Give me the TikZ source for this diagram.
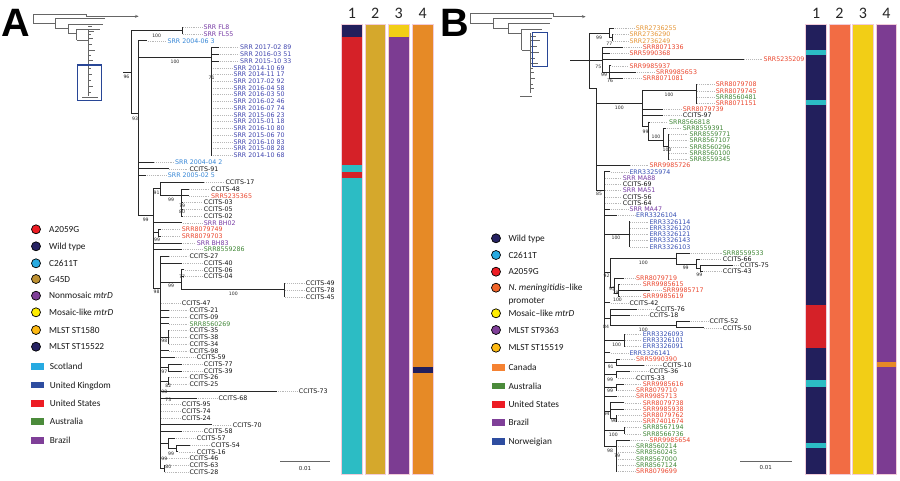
\documentclass[tikz,border=0pt]{standalone}
\usepackage{fontspec}
\setmainfont{DejaVu Sans}
\newfontfamily\legfont{Carlito}
\newfontfamily\letfont{Liberation Sans}
\definecolor{trc}{RGB}{40,40,40}
\definecolor{cPur}{RGB}{120,60,165}
\definecolor{cSky}{RGB}{55,135,215}
\definecolor{cInd}{RGB}{65,70,175}
\definecolor{cRed}{RGB}{235,70,45}
\definecolor{cGrn}{RGB}{65,135,55}
\definecolor{cTan}{RGB}{230,150,55}
\definecolor{cBlu}{RGB}{55,80,180}
\definecolor{cBlk}{RGB}{20,20,20}
\definecolor{lRed}{RGB}{237,28,36}
\definecolor{lNavy}{RGB}{38,34,98}
\definecolor{lSky}{RGB}{39,170,225}
\definecolor{lOchre}{RGB}{190,145,50}
\definecolor{lPur}{RGB}{127,63,152}
\definecolor{lYel}{RGB}{255,237,0}
\definecolor{lGold}{RGB}{253,185,19}
\definecolor{lBlue}{RGB}{46,77,160}
\definecolor{lGrn}{RGB}{75,139,59}
\definecolor{lOra}{RGB}{241,101,41}
\definecolor{lCan}{RGB}{245,130,50}
\definecolor{bNavy}{RGB}{34,31,92}
\definecolor{bRed}{RGB}{213,33,40}
\definecolor{bCyan}{RGB}{44,188,196}
\definecolor{bGold}{RGB}{213,168,44}
\definecolor{bPur}{RGB}{124,60,146}
\definecolor{bOra}{RGB}{230,138,38}
\definecolor{bYel}{RGB}{242,206,22}
\definecolor{bCoral}{RGB}{242,108,68}
\definecolor{boxBlue}{RGB}{40,70,150}
\tikzset{
  br/.style={draw=trc, line width=0.75pt, line cap=rect},
  ldr/.style={draw=black!28, dash pattern=on 0.6pt off 1.3pt, line width=0.4pt, shorten >=1pt},
  lbl/.style={font=\fontsize{6.3}{7}\selectfont, inner sep=0pt, anchor=west, text height=4.6pt, text depth=0pt},
  bs/.style={font=\fontsize{4.6}{5}\selectfont, inner sep=0pt, text=black!85},
  leg/.style={font=\legfont\fontsize{9.3}{11}\selectfont, inner sep=0pt, anchor=west, text height=6pt, text depth=0pt, text=black!90},
  dot/.style={circle, draw=black, line width=0.7pt, minimum size=9pt, inner sep=0pt},
  sq/.style={rectangle, minimum width=13.6pt, minimum height=6.8pt, inner sep=0pt},
  th/.style={draw=black!60, line width=0.45pt},
  num/.style={font=\legfont\fontsize{16}{18}\selectfont, inner sep=0pt, text=black!85},
  letter/.style={font=\letfont\bfseries\fontsize{39.6}{40}\selectfont, inner sep=0pt, anchor=base west},
  bar/.style={draw=white!80!purple, line width=0.5pt}
}
\newcommand\hbr[3]{\draw[br] (#2,#1) -- (#3,#1);}
\newcommand\vbr[3]{\draw[br] (#1,#2) -- (#1,#3);}
\newcommand\leafA[6]{%
  \draw[br] (#2,{27.3+6.738*#1}) -- (#3,{27.3+6.738*#1});
  \node[lbl,text=#5] (a#1) at (#4,{27.3+6.738*#1}) {#6};
  \draw[ldr] ([xshift=1pt]#3,{27.3+6.738*#1}) -- (a#1.west);}
\newcommand\leafB[6]{%
  \draw[br] (#2,{28.3+6.24*#1}) -- (#3,{28.3+6.24*#1});
  \node[lbl,text=#5] (b#1) at (#4,{28.3+6.24*#1}) {#6};
  \draw[ldr] ([xshift=1pt]#3,{28.3+6.24*#1}) -- (b#1.west);}
\begin{document}
\begin{tikzpicture}[x=1pt,y=-1pt]
\useasboundingbox (0,0) rectangle (900,480);
\fill[white] (0,0) rectangle (900,480);

% ================= PANEL A =================
\node[letter] (letA) at (1.7,36.7) {A};
% thumbnail A
\draw[th] (33.3,14.3)--(33.3,23.3);
\draw[th] (33.3,14.3)--(86.7,14.3);
\draw[th,line width=1.3pt] (46,14.3)--(73,14.3);
\draw[th] (86.7,14.3)--(86.7,16.3)--(138,16.3);
\draw[th] (135,15)--(138,16.3)--(135,17.6);
\draw[th] (33.3,23.3)--(55,23.3);
\draw[th] (55,18.3)--(55,28.3);
\draw[th] (55,18.3)--(105,18.3);
\draw[th] (55,28.3)--(68.3,28.3);
\draw[th] (68.3,24)--(68.3,33.3);
\draw[th] (68.3,24)--(103,24);
\draw[th] (68.3,33.3)--(76.7,33.3);
\draw[th] (76.7,29)--(76.7,40);
\draw[th] (76.7,29)--(100,29);
\draw[th] (76.7,40)--(88.3,40);
\draw[th] (88.3,30)--(88.3,96);
\foreach \yy/\ll in {26/4,31/6,34/3,38/5,44/4,50/7,55/3,60/5,68/3,74/4,80/3,86/5,92/3}{\draw[th] (88.3,\yy)--++(\ll,0);}
\draw[th] (82,97)--(98,97);
\draw[draw=boxBlue, line width=1.2pt] (77.3,65) rectangle (101.7,100.7);

% tree A internal
\draw[br] (123,72)--(131.7,72);
\vbr{131.7}{30.65}{113}
\hbr{30.65}{131.7}{182}
\vbr{182}{27.3}{34.0}
\hbr{113}{131.7}{138.3}
\vbr{138.3}{40.8}{215}
\hbr{57.3}{138.3}{211.7}
\vbr{211.7}{47.5}{155.3}
\hbr{215}{138.3}{153.3}
\vbr{153.3}{188}{288}
\hbr{188}{153.3}{160}
\vbr{160}{182.3}{195.8}
\hbr{195.8}{160}{181.7}
\vbr{181.7}{189}{216}
\hbr{232.8}{153.3}{158.3}
\vbr{158.3}{229.4}{236.2}
\hbr{288}{153.3}{160}
\vbr{160}{256.4}{468.6}
\hbr{282}{160}{181.7}
\vbr{181.7}{269.9}{289.5}
\hbr{289.5}{181.7}{284.3}
\vbr{284.3}{283.3}{296.8}
\hbr{337.2}{160}{168.3}
\vbr{168.3}{330.5}{344.0}
\hbr{367.5}{160}{168.3}
\vbr{168.3}{364.2}{370.9}
\hbr{381}{160}{168.3}
\vbr{168.3}{377.7}{384.4}
\hbr{443}{160}{168.3}
\vbr{168.3}{438.3}{448.5}
\hbr{448.5}{168.3}{176}
\vbr{176}{445.1}{451.8}
\hbr{468.6}{160}{164}
\vbr{164}{465.3}{472}

% leaves A
\leafA{0}{182}{182}{203.3}{cPur}{SRR FL8}
\leafA{1}{182}{182}{203.3}{cPur}{SRR FL55}
\leafA{2}{138.3}{146.7}{167.3}{cSky}{SRR 2004-06 3}
\leafA{3}{211.7}{219}{240}{cInd}{SRR 2017-02 89}
\leafA{4}{211.7}{219}{240}{cInd}{SRR 2016-03 51}
\leafA{5}{211.7}{219}{240}{cInd}{SRR 2015-10 33}
\leafA{6}{211.7}{211.7}{233.3}{cInd}{SRR 2014-10 69}
\leafA{7}{211.7}{211.7}{233.3}{cInd}{SRR 2014-11 17}
\leafA{8}{211.7}{211.7}{233.3}{cInd}{SRR 2017-02 92}
\leafA{9}{211.7}{211.7}{233.3}{cInd}{SRR 2016-04 58}
\leafA{10}{211.7}{211.7}{233.3}{cInd}{SRR 2016-03 50}
\leafA{11}{211.7}{211.7}{233.3}{cInd}{SRR 2016-02 46}
\leafA{12}{211.7}{211.7}{233.3}{cInd}{SRR 2016-07 74}
\leafA{13}{211.7}{211.7}{233.3}{cInd}{SRR 2015-06 23}
\leafA{14}{211.7}{211.7}{233.3}{cInd}{SRR 2015-01 18}
\leafA{15}{211.7}{211.7}{233.3}{cInd}{SRR 2016-10 80}
\leafA{16}{211.7}{211.7}{233.3}{cInd}{SRR 2015-06 70}
\leafA{17}{211.7}{211.7}{233.3}{cInd}{SRR 2016-10 83}
\leafA{18}{211.7}{211.7}{233.3}{cInd}{SRR 2015-08 28}
\leafA{19}{211.7}{211.7}{233.3}{cInd}{SRR 2014-10 68}
\leafA{20}{138.3}{153.3}{175}{cSky}{SRR 2004-04 2}
\leafA{21}{138.3}{168.3}{189.3}{cBlk}{CCITS-91}
\leafA{22}{138.3}{146}{167.7}{cSky}{SRR 2005-02 5}
\leafA{23}{160}{203.3}{225.3}{cBlk}{CCITS-17}
\leafA{24}{181.7}{188.3}{211}{cBlk}{CCITS-48}
\leafA{25}{181.7}{188.3}{211}{cRed}{SRR5235365}
\leafA{26}{181.7}{183}{203.7}{cBlk}{CCITS-03}
\leafA{27}{181.7}{183}{203.7}{cBlk}{CCITS-05}
\leafA{28}{181.7}{183}{203.7}{cBlk}{CCITS-02}
\leafA{29}{153.3}{181.7}{203.7}{cPur}{SRR BH02}
\leafA{30}{158.3}{161}{181.7}{cRed}{SRR8079749}
\leafA{31}{158.3}{161}{181.7}{cRed}{SRR8079703}
\leafA{32}{153.3}{181.7}{196.7}{cPur}{SRR BH83}
\leafA{33}{153.3}{181.7}{203.7}{cGrn}{SRR8559286}
\leafA{34}{160}{168.3}{189.3}{cBlk}{CCITS-27}
\leafA{35}{160}{181.7}{203.7}{cBlk}{CCITS-40}
\leafA{36}{181.7}{184}{203.7}{cBlk}{CCITS-06}
\leafA{37}{181.7}{184}{203.7}{cBlk}{CCITS-04}
\leafA{38}{284.3}{284.3}{305.7}{cBlk}{CCITS-49}
\leafA{39}{284.3}{284.3}{305.7}{cBlk}{CCITS-78}
\leafA{40}{284.3}{284.3}{305.7}{cBlk}{CCITS-45}
\leafA{41}{160}{160}{181.7}{cBlk}{CCITS-47}
\leafA{42}{160}{168.3}{189.3}{cBlk}{CCITS-21}
\leafA{43}{160}{168.3}{189.3}{cBlk}{CCITS-09}
\leafA{44}{160}{168.3}{189.3}{cGrn}{SRR8560269}
\leafA{45}{168.3}{168.3}{189.3}{cBlk}{CCITS-35}
\leafA{46}{168.3}{168.3}{189.3}{cBlk}{CCITS-38}
\leafA{47}{168.3}{168.3}{189.3}{cBlk}{CCITS-34}
\leafA{48}{160}{168.3}{189.3}{cBlk}{CCITS-98}
\leafA{49}{160}{175}{196.7}{cBlk}{CCITS-59}
\leafA{50}{168.3}{181.7}{203.7}{cBlk}{CCITS-77}
\leafA{51}{168.3}{181.7}{203.7}{cBlk}{CCITS-39}
\leafA{52}{168.3}{168.3}{189.3}{cBlk}{CCITS-26}
\leafA{53}{168.3}{168.3}{189.3}{cBlk}{CCITS-25}
\leafA{54}{160}{276.7}{298.7}{cBlk}{CCITS-73}
\leafA{55}{160}{196.7}{218.3}{cBlk}{CCITS-68}
\leafA{56}{160}{160}{181.7}{cBlk}{CCITS-95}
\leafA{57}{160}{160}{181.7}{cBlk}{CCITS-74}
\leafA{58}{160}{160}{181.7}{cBlk}{CCITS-24}
\leafA{59}{160}{211.7}{232.7}{cBlk}{CCITS-70}
\leafA{60}{160}{181.7}{203.7}{cBlk}{CCITS-58}
\leafA{61}{168.3}{175}{196.7}{cBlk}{CCITS-57}
\leafA{62}{176}{189.3}{211}{cBlk}{CCITS-54}
\leafA{63}{176}{178}{196.7}{cBlk}{CCITS-16}
\leafA{64}{160}{160}{189.3}{cBlk}{CCITS-46}
\leafA{65}{164}{164}{189.3}{cBlk}{CCITS-63}
\leafA{66}{164}{164}{189.3}{cBlk}{CCITS-28}

% bootstrap A
\node[bs] (pa1) at (156.7,35.8) {100};
\node[bs] (pa2) at (126.5,76.5) {96};
\node[bs] (pa3) at (135,119) {93};
\node[bs] (pa4) at (175,61.8) {100};
\node[bs] (pa5) at (211.5,78.3) {71};
\node[bs] (pa6) at (145.7,220) {99};
\node[bs] (pa7) at (156.5,192.5) {91};
\node[bs] (pa8) at (171,200) {99};
\node[bs] (pa9) at (182,206) {79};
\node[bs] (pa10) at (182,211.5) {80};
\node[bs] (pa11) at (157,240) {99};
\node[bs] (pa12) at (156.5,292) {98};
\node[bs] (pa13) at (182,276.5) {77};
\node[bs] (pa14) at (171,286) {99};
\node[bs] (pa15) at (233.3,293.8) {100};
\node[bs] (pa16) at (164.3,340.5) {98};
\node[bs] (pa17) at (164.3,371.5) {97};
\node[bs] (pa18) at (168.3,385.5) {82};
\node[bs] (pa19) at (164.3,391.5) {98};
\node[bs] (pa20) at (168.3,399.5) {73};
\node[bs] (pa21) at (171,453.5) {99};
\node[bs] (pa22) at (164.3,458.5) {99};
\node[bs] (pa23) at (168.3,466.7) {80};

% scale bar A
\draw[draw=black!60, line width=0.6pt] (280,461.7) -- (330,461.7);
\node[bs, font=\fontsize{5.5}{6}\selectfont] (sA) at (305,468) {0.01};

% legend A
\node[dot,fill=lRed] (lda1) at (36,229.3) {};
\node[leg] (lta1) at (49,229.3) {A2059G};
\node[dot,fill=lNavy] (lda2) at (36,246.3) {};
\node[leg] (lta2) at (49,246.3) {Wild type};
\node[dot,fill=lSky] (lda3) at (36,263.3) {};
\node[leg] (lta3) at (49,263.3) {C2611T};
\node[dot,fill=lOchre] (lda4) at (36,279.0) {};
\node[leg] (lta4) at (49,279.0) {G45D};
\node[dot,fill=lPur] (lda5) at (36,295.7) {};
\node[leg] (lta5) at (49,295.7) {Nonmosaic \textit{mtrD}};
\node[dot,fill=lYel] (lda6) at (36,312.3) {};
\node[leg] (lta6) at (49,312.3) {Mosaic-like \textit{mtrD}};
\node[dot,fill=lGold] (lda7) at (36,330.0) {};
\node[leg] (lta7) at (49,330.0) {MLST ST1580};
\node[dot,fill=lNavy] (lda8) at (36,346.7) {};
\node[leg] (lta8) at (49,346.7) {MLST ST15522};
\node[sq,fill=lSky] (lsa1) at (37.5,366.7) {};
\node[leg] (lsta1) at (49.7,366.7) {Scotland};
\node[sq,fill=lBlue] (lsa2) at (37.5,385) {};
\node[leg] (lsta2) at (49.7,385) {United Kingdom};
\node[sq,fill=lRed] (lsa3) at (37.5,403.3) {};
\node[leg] (lsta3) at (49.7,403.3) {United States};
\node[sq,fill=lGrn] (lsa4) at (37.5,421.7) {};
\node[leg] (lsta4) at (49.7,421.7) {Australia};
\node[sq,fill=lPur] (lsa5) at (37.5,440.7) {};
\node[leg] (lsta5) at (49.7,440.7) {Brazil};

% bars A
\node[num] (na1) at (352,13.8) {1};
\node[num] (na2) at (375.3,13.8) {2};
\node[num] (na3) at (398.8,13.8) {3};
\node[num] (na4) at (422.7,13.8) {4};
\fill[bNavy] (341.7,24) rectangle (362.3,37.3);
\fill[bRed] (341.7,37.3) rectangle (362.3,165);
\fill[bCyan] (341.7,165) rectangle (362.3,171.7);
\fill[bRed] (341.7,171.7) rectangle (362.3,178.3);
\fill[bCyan] (341.7,178.3) rectangle (362.3,474);
\draw[bar] (341.7,24) rectangle (362.3,474);
\fill[bGold] (365,24) rectangle (385.7,474);
\draw[bar] (365,24) rectangle (385.7,474);
\fill[bYel] (388.3,24) rectangle (409.3,37.3);
\fill[bPur] (388.3,37.3) rectangle (409.3,474);
\draw[bar] (388.3,24) rectangle (409.3,474);
\fill[bOra] (412.3,24) rectangle (433,366.7);
\fill[bNavy] (412.3,366.7) rectangle (433,373.3);
\fill[bOra] (412.3,373.3) rectangle (433,474);
\draw[bar] (412.3,24) rectangle (433,474);

% ================= PANEL B =================
\node[letter] (letB) at (440.5,36.7) {B};
% thumbnail B
\draw[th] (470,13.3)--(470,23.3);
\draw[th] (470,13.3)--(553,13.3);
\draw[th,line width=1.3pt] (483,13.3)--(510,13.3);
\draw[th] (553,13.3)--(553,16.7)--(585,16.7);
\draw[th] (582,15.4)--(585,16.7)--(582,18);
\draw[th] (470,23.3)--(493.3,23.3);
\draw[th] (493.3,18.3)--(493.3,28.3);
\draw[th] (493.3,18.3)--(551.7,18.3);
\draw[th] (493.3,28.3)--(508.3,28.3);
\draw[th] (508.3,23.3)--(508.3,33.3);
\draw[th] (508.3,23.3)--(550,23.3);
\draw[th] (508.3,33.3)--(521.7,33.3);
\draw[th] (521.7,29.3)--(521.7,50);
\draw[th] (521.7,29.3)--(541.7,29.3);
\draw[th] (521.7,50)--(530,50);
\draw[th] (530,33.3)--(530,93.3);
\foreach \yy/\ll in {36/6,40/10,46/7,52/9,58/5,63/8,68/3,72/4,78/5,84/3,88/4}{\draw[th] (530,\yy)--++(\ll,0);}
\draw[th] (520,96.7)--(531.7,96.7);
\draw[draw=boxBlue, line width=1.2pt] (532.3,32.3) rectangle (547.7,66.7);

% tree B internal
\draw[br] (570.7,60.7)--(589.3,60.7);
\vbr{589.3}{33.3}{88.3}
\hbr{33.3}{589.3}{609.3}
\vbr{609.3}{28.3}{37.6}
\hbr{37.6}{609.3}{612}
\vbr{612}{34.5}{40.8}
\hbr{60.7}{589.3}{602.7}
\vbr{602.7}{47}{72}
\hbr{72}{602.7}{609}
\vbr{609}{65.7}{78.2}
\hbr{88.3}{589.3}{596.7}
\vbr{596.7}{88.3}{190}
\hbr{103.3}{596.7}{642.7}
\vbr{642.7}{90}{126.7}
\hbr{90}{642.7}{696}
\vbr{696}{84.5}{103.2}
\hbr{126.7}{642.7}{648.3}
\vbr{648.3}{121.9}{140}
\hbr{140}{648.3}{663.3}
\vbr{663.3}{128.1}{146}
\hbr{146}{663.3}{668.3}
\vbr{668.3}{134.4}{159.3}
\hbr{190}{596.7}{604}
\vbr{604}{171.8}{446.4}
\hbr{234}{604}{629.3}
\vbr{629.3}{221.7}{246.7}
\hbr{272}{604}{610}
\vbr{610}{258.3}{287}
\hbr{258.3}{610}{676}
\vbr{676}{252.9}{264}
\hbr{264}{676}{696.7}
\vbr{696.7}{259.2}{268.5}
\hbr{268.5}{696.7}{700}
\vbr{700}{265.4}{271.7}
\hbr{287}{610}{614}
\vbr{614}{277.9}{293.5}
\hbr{293.5}{614}{618}
\vbr{618}{284.1}{296.6}
\hbr{318}{604}{610}
\vbr{610}{309.1}{325}
\hbr{325}{610}{676}
\vbr{676}{321.6}{327.8}
\hbr{340.3}{604}{624}
\vbr{624}{334.1}{346.5}
\hbr{362}{604}{616.7}
\vbr{616.7}{359}{365.3}
\hbr{374.6}{604}{616.7}
\vbr{616.7}{371.5}{377.7}
\hbr{387.1}{604}{616.7}
\vbr{616.7}{384}{390.2}
\hbr{411}{604}{610}
\vbr{610}{402.7}{418.3}
\hbr{418.3}{610}{616.7}
\vbr{616.7}{415.2}{421.4}
\hbr{430.8}{604}{624}
\vbr{624}{427.7}{433.9}
\hbr{446.4}{604}{616.7}
\vbr{616.7}{440.1}{471.3}

% leaves B
\leafB{0}{609.3}{614}{635.7}{cTan}{SRR2736255}
\leafB{1}{612}{612}{629.3}{cTan}{SRR2736290}
\leafB{2}{612}{612}{629.3}{cTan}{SRR2736249}
\leafB{3}{602.7}{622.7}{642.7}{cRed}{SRR8071336}
\leafB{4}{602.7}{610}{629.3}{cRed}{SRR5990368}
\leafB{5}{602.7}{743.3}{763.3}{cRed}{SRR5235209}
\leafB{6}{609}{611}{629.3}{cRed}{SRR9985937}
\leafB{7}{609}{636}{656}{cRed}{SRR9985653}
\leafB{8}{609}{622.7}{642.7}{cRed}{SRR8071081}
\leafB{9}{696}{696}{715.7}{cRed}{SRR8079708}
\leafB{10}{696}{696}{715.7}{cRed}{SRR8079745}
\leafB{11}{696}{696}{715.7}{cGrn}{SRR8560481}
\leafB{12}{696}{696}{715.7}{cRed}{SRR8071151}
\leafB{13}{642.7}{662.7}{682.7}{cRed}{SRR8079739}
\leafB{14}{642.7}{662.7}{682.7}{cBlk}{CCITS-97}
\leafB{15}{648.3}{650}{669}{cGrn}{SRR8566818}
\leafB{16}{663.3}{666}{682.7}{cGrn}{SRR8559391}
\leafB{17}{668.3}{668.3}{689.3}{cGrn}{SRR8559771}
\leafB{18}{668.3}{668.3}{689.3}{cGrn}{SRR8567107}
\leafB{19}{668.3}{668.3}{689.3}{cGrn}{SRR8560296}
\leafB{20}{668.3}{668.3}{689.3}{cGrn}{SRR8560100}
\leafB{21}{668.3}{668.3}{689.3}{cGrn}{SRR8559345}
\leafB{22}{596.7}{629.3}{649.3}{cRed}{SRR9985726}
\leafB{23}{604}{610}{629.3}{cBlu}{ERR3325974}
\leafB{24}{604}{604}{622.7}{cPur}{SRR MA88}
\leafB{25}{604}{604}{622.7}{cBlk}{CCITS-69}
\leafB{26}{604}{604}{622.7}{cPur}{SRR MA51}
\leafB{27}{604}{604}{622.7}{cBlk}{CCITS-56}
\leafB{28}{604}{604}{622.7}{cBlk}{CCITS-64}
\leafB{29}{604}{610}{629.3}{cPur}{SRR MA47}
\leafB{30}{604}{616.7}{636}{cBlu}{ERR3326104}
\leafB{31}{629.3}{629.3}{649.3}{cBlu}{ERR3326114}
\leafB{32}{629.3}{629.3}{649.3}{cBlu}{ERR3326120}
\leafB{33}{629.3}{629.3}{649.3}{cBlu}{ERR3326121}
\leafB{34}{629.3}{629.3}{649.3}{cBlu}{ERR3326143}
\leafB{35}{629.3}{629.3}{649.3}{cBlu}{ERR3326103}
\leafB{36}{676}{690}{722.7}{cGrn}{SRR8559533}
\leafB{37}{696.7}{700}{722.7}{cBlk}{CCITS-66}
\leafB{38}{700}{733}{740}{cBlk}{CCITS-75}
\leafB{39}{700}{703}{722.7}{cBlk}{CCITS-43}
\leafB{40}{614}{624}{636}{cRed}{SRR8079719}
\leafB{41}{618}{620}{642.7}{cRed}{SRR9985615}
\leafB{42}{618}{650}{662.7}{cRed}{SRR9985717}
\leafB{43}{618}{620}{642.7}{cRed}{SRR9985619}
\leafB{44}{604}{610}{629.3}{cBlk}{CCITS-42}
\leafB{45}{610}{636.7}{656}{cBlk}{CCITS-76}
\leafB{46}{610}{630}{649.3}{cBlk}{CCITS-18}
\leafB{47}{676}{690}{709.3}{cBlk}{CCITS-52}
\leafB{48}{676}{703.3}{722.7}{cBlk}{CCITS-50}
\leafB{49}{624}{624}{642.7}{cBlu}{ERR3326093}
\leafB{50}{624}{624}{642.7}{cBlu}{ERR3326101}
\leafB{51}{624}{624}{642.7}{cBlu}{ERR3326091}
\leafB{52}{604}{610}{629.3}{cBlu}{ERR3326141}
\leafB{53}{616.7}{620}{636}{cRed}{SRR5990390}
\leafB{54}{616.7}{643.3}{662.7}{cBlk}{CCITS-10}
\leafB{55}{616.7}{630}{649.3}{cBlk}{CCITS-36}
\leafB{56}{616.7}{616.7}{636}{cBlk}{CCITS-33}
\leafB{57}{616.7}{624}{642.7}{cRed}{SRR9985616}
\leafB{58}{616.7}{616.7}{636}{cRed}{SRR8079710}
\leafB{59}{604}{616.7}{636}{cRed}{SRR9985713}
\leafB{60}{610}{624}{642.7}{cRed}{SRR8079738}
\leafB{61}{610}{624}{642.7}{cRed}{SRR9985938}
\leafB{62}{616.7}{616.7}{642.7}{cRed}{SRR8079762}
\leafB{63}{616.7}{616.7}{642.7}{cRed}{SRR7401674}
\leafB{64}{624}{624}{642.7}{cGrn}{SRR8567194}
\leafB{65}{624}{624}{642.7}{cGrn}{SRR8566736}
\leafB{66}{616.7}{630}{649.3}{cRed}{SRR9985654}
\leafB{67}{616.7}{616.7}{636}{cGrn}{SRR8560214}
\leafB{68}{616.7}{616.7}{636}{cGrn}{SRR8560245}
\leafB{69}{616.7}{616.7}{636}{cGrn}{SRR8567000}
\leafB{70}{616.7}{616.7}{636}{cGrn}{SRR8567124}
\leafB{71}{616.7}{616.7}{636}{cRed}{SRR8079699}

% bootstrap B
\node[bs] (pb1) at (599,37.8) {99};
\node[bs] (pb2) at (609.3,43.5) {77};
\node[bs] (pb3) at (598.3,66.5) {75};
\node[bs] (pb4) at (604,75) {99};
\node[bs] (pb5) at (610,80.5) {76};
\node[bs] (pb6) at (619.3,107.8) {100};
\node[bs] (pb7) at (669,94.5) {100};
\node[bs] (pb8) at (645.5,132.3) {99};
\node[bs] (pb9) at (656,136.5) {100};
\node[bs] (pb10) at (667,149.5) {100};
\node[bs] (pb11) at (599,193.5) {85};
\node[bs] (pb12) at (616,238.3) {100};
\node[bs] (pb13) at (606.5,276.3) {92};
\node[bs] (pb14) at (643.3,262.7) {100};
\node[bs] (pb15) at (685.7,267.8) {99};
\node[bs] (pb16) at (699.3,274.8) {99};
\node[bs] (pb17) at (612,288.5) {95};
\node[bs] (pb18) at (615.5,293) {79};
\node[bs] (pb19) at (617.5,299.5) {100};
\node[bs] (pb20) at (606,326.5) {84};
\node[bs] (pb21) at (643.3,329.5) {100};
\node[bs] (pb22) at (616.7,344.8) {100};
\node[bs] (pb23) at (610.7,367) {91};
\node[bs] (pb24) at (610,379.5) {99};
\node[bs] (pb25) at (610,391.3) {99};
\node[bs] (pb26) at (606.7,413.5) {94};
\node[bs] (pb27) at (614,420.5) {96};
\node[bs] (pb28) at (613.3,435.3) {100};
\node[bs] (pb29) at (610,450.8) {98};
\node[bs] (pb30) at (617,456) {79};

% scale bar B
\draw[draw=black!60, line width=0.6pt] (740,461) -- (791.7,461);
\node[bs, font=\fontsize{5.5}{6}\selectfont] (sB) at (765.8,467.7) {0.01};

% legend B
\node[dot,fill=lNavy] (ldb1) at (496,238.3) {};
\node[leg] (ltb1) at (508.3,238.3) {Wild type};
\node[dot,fill=lSky] (ldb2) at (496,255) {};
\node[leg] (ltb2) at (508.3,255) {C2611T};
\node[dot,fill=lRed] (ldb3) at (496,271.7) {};
\node[leg] (ltb3) at (508.3,271.7) {A2059G};
\node[dot,fill=lOra] (ldb4) at (496,287.7) {};
\node[leg] (ltb4) at (508.3,287.7) {\textit{N. meningitidis}–like};
\node[leg] (ltb4b) at (508.3,300.3) {promoter};
\node[dot,fill=lYel] (ldb5) at (496,313.3) {};
\node[leg] (ltb5) at (508.3,313.3) {Mosaic–like \textit{mtrD}};
\node[dot,fill=lPur] (ldb6) at (496,330) {};
\node[leg] (ltb6) at (508.3,330) {MLST ST9363};
\node[dot,fill=lGold] (ldb7) at (496,347.7) {};
\node[leg] (ltb7) at (508.3,347.7) {MLST ST15519};
\node[sq,fill=lCan] (lsb1) at (498.3,367.7) {};
\node[leg] (lstb1) at (508.3,367.7) {Canada};
\node[sq,fill=lGrn] (lsb2) at (498.3,386) {};
\node[leg] (lstb2) at (508.3,386) {Australia};
\node[sq,fill=lRed] (lsb3) at (498.3,404.3) {};
\node[leg] (lstb3) at (508.3,404.3) {United States};
\node[sq,fill=lPur] (lsb4) at (498.3,422.7) {};
\node[leg] (lstb4) at (508.3,422.7) {Brazil};
\node[sq,fill=lBlue] (lsb5) at (498.3,441.7) {};
\node[leg] (lstb5) at (508.3,441.7) {Norweigian};

% bars B
\node[num] (nb1) at (816.2,13.8) {1};
\node[num] (nb2) at (839.5,13.8) {2};
\node[num] (nb3) at (863,13.8) {3};
\node[num] (nb4) at (886.3,13.8) {4};
\fill[bNavy] (805.7,24.3) rectangle (826.7,474);
\fill[bCyan] (805.7,50) rectangle (826.7,55.3);
\fill[bCyan] (805.7,100) rectangle (826.7,105.3);
\fill[bRed] (805.7,305) rectangle (826.7,348.3);
\fill[bCyan] (805.7,380) rectangle (826.7,386.7);
\fill[bCyan] (805.7,443.3) rectangle (826.7,448.3);
\draw[bar] (805.7,24.3) rectangle (826.7,474);
\fill[bCoral] (829,24.3) rectangle (850,474);
\draw[bar] (829,24.3) rectangle (850,474);
\fill[bYel] (852.7,24.3) rectangle (873.3,474);
\draw[bar] (852.7,24.3) rectangle (873.3,474);
\fill[bPur] (876,24.3) rectangle (896.7,474);
\fill[bOra] (876,361.7) rectangle (896.7,367.3);
\draw[bar] (876,24.3) rectangle (896.7,474);
\end{tikzpicture}
\end{document}
